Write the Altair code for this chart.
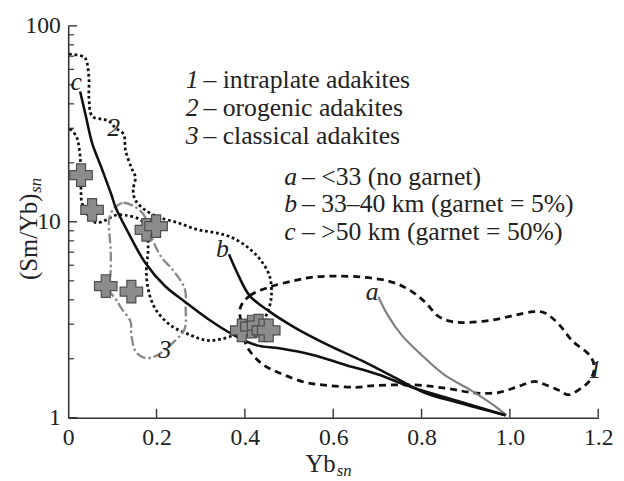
import altair as alt
import pandas as pd

# ---------------- data ----------------
# c : >50 km (garnet = 50%)
c_x = [0.027, 0.040, 0.054, 0.076, 0.098, 0.107, 0.136, 0.174, 0.219, 0.264, 0.315, 0.375, 0.427, 0.478, 0.554, 0.628, 0.702, 0.778, 0.880, 0.990]
c_y = [46.2, 34.6, 25.3, 18.7, 13.7, 11.9, 8.8, 6.2, 4.7, 3.91, 3.21, 2.64, 2.34, 2.26, 2.09, 1.86, 1.66, 1.43, 1.22, 1.03]
# b : 33-40 km (garnet = 5%)
b_x = [0.364, 0.382, 0.411, 0.456, 0.516, 0.590, 0.666, 0.740, 0.807, 0.880, 0.990]
b_y = [6.82, 5.53, 4.19, 3.48, 2.86, 2.34, 1.95, 1.60, 1.34, 1.20, 1.03]
# a : <33 (no garnet)
a_x = [0.702, 0.724, 0.755, 0.800, 0.851, 0.912, 0.963, 0.992]
a_y = [4.14, 3.32, 2.64, 2.09, 1.66, 1.38, 1.16, 1.03]

# 1 : intraplate adakites (closed, dashed)
f1_x = [0.389, 0.411, 0.456, 0.509, 0.554, 0.606, 0.666, 0.724, 0.769, 0.807, 0.836, 0.867, 0.903, 0.956, 1.008,
        1.053, 1.082, 1.113, 1.142, 1.180, 1.191, 1.182, 1.164, 1.134, 1.111, 1.082, 1.053, 1.014, 0.970, 0.918,
        0.858, 0.784, 0.695, 0.650, 0.590, 0.539, 0.487, 0.442, 0.411, 0.398, 0.393]
f1_y = [3.60, 4.19, 4.65, 4.99, 5.22, 5.28, 5.22, 4.99, 4.54, 3.91, 3.32, 3.10, 3.06, 3.14, 3.32,
        3.48, 3.40, 2.96, 2.46, 2.09, 1.80, 1.56, 1.43, 1.31, 1.38, 1.47, 1.53, 1.43, 1.34, 1.34,
        1.41, 1.47, 1.46, 1.43, 1.46, 1.51, 1.66, 1.86, 2.19, 2.54, 2.96]
# 2 : orogenic adakites (dotted, open at the axis)
f2_x = [0.002, 0.036, 0.042, 0.047, 0.047, 0.054, 0.076, 0.092, 0.107, 0.125, 0.130, 0.143, 0.152, 0.147, 0.152,
        0.174, 0.203, 0.248, 0.293, 0.331, 0.366, 0.404, 0.434, 0.456, 0.460, 0.454, 0.434, 0.404, 0.382, 0.353,
        0.315, 0.277, 0.232, 0.197, 0.181, 0.177, 0.181, 0.177, 0.165, 0.130, 0.107, 0.085, 0.063, 0.047, 0.031,
        0.029, 0.029, 0.025, 0.018, 0.002]
f2_y = [71.8, 69.4, 65.5, 53.7, 42.6, 34.6, 33.4, 32.7, 30.1, 28.1, 23.0, 18.9, 16.9, 14.5, 12.9,
        11.5, 10.6, 9.89, 9.12, 8.81, 8.40, 7.48, 6.44, 5.28, 4.19, 3.60, 2.96, 2.73, 2.67, 2.54,
        2.48, 2.64, 2.96, 3.60, 4.54, 5.73, 7.22, 9.33, 10.2, 10.8, 10.8, 10.2, 9.89, 10.6, 12.5,
        14.8, 17.9, 23.6, 27.4, 30.1]
# 3 : classical adakites (closed, dash-dot grey)
f3_x = [0.107, 0.125, 0.152, 0.174, 0.188, 0.210, 0.241, 0.264, 0.266, 0.264, 0.241, 0.203, 0.174, 0.152, 0.143,
        0.141, 0.121, 0.107, 0.092, 0.096, 0.096, 0.092, 0.098]
f3_y = [11.9, 12.5, 11.9, 10.6, 8.40, 6.66, 5.53, 4.54, 3.60, 2.86, 2.46, 2.09, 2.02, 2.19, 2.64,
        3.10, 3.60, 4.05, 4.54, 5.53, 7.22, 9.89, 11.2]

# samples (crosses)
pt_x = [0.029, 0.054, 0.177, 0.199, 0.085, 0.143, 0.393, 0.416, 0.431, 0.442, 0.454]
pt_y = [17.3, 11.5, 9.1, 9.5, 4.7, 4.4, 2.79, 2.92, 2.95, 2.79, 2.79]

# curve labels
lab_txt = ["c", "2", "3", "b", "a", "1"]
lab_x = [0.018, 0.103, 0.219, 0.349, 0.688, 1.193]
lab_y = [51.9, 30.1, 2.21, 7.22, 4.39, 1.76]

# legend
leg_key = ["1", "2", "3", "a", "b", "c"]
leg_txt = ["– intraplate adakites", "– orogenic adakites", "– classical adakites",
           "– <33 (no garnet)", "– 33–40 km (garnet = 5%)", "– >50 km (garnet = 50%)"]
leg_x = [0.266, 0.266, 0.266, 0.489, 0.489, 0.489]
leg_y = [47.9, 34.6, 25.0, 15.5, 11.2, 8.11]

x_ticks = [0.2, 0.4, 0.6, 0.8, 1.0, 1.2]
x_labels = [0, 0.2, 0.4, 0.6, 0.8, 1.0, 1.2]
y_major = [1, 10, 100]
y_minor = [2, 3, 4, 5, 6, 7, 8, 9, 20, 30, 40, 50, 60, 70, 80, 90]

# ---------------- chart ----------------
FONT = "Liberation Serif"
FS = 24      # tick labels
FT = 26      # legend / curve labels
FA = 25      # axis titles
W, H = 537, 397

xscale = alt.Scale(domain=[0, 1.2], nice=False, zero=False)
yscale = alt.Scale(type="log", domain=[1, 100], nice=False)
xaxis = alt.Axis(values=x_labels, ticks=False, grid=False, title=None,
                 labelExpr="datum.value == 0 ? '0' : format(datum.value, '.1f')",
                 labelFont=FONT, labelFontSize=FS, labelColor="#222", labelPadding=8,
                 labelFlush=False, labelOverlap=False, labelBound=False,
                 domainColor="#333", domainWidth=1.6)
yaxis = alt.Axis(values=y_major, format="d", ticks=False, grid=False, title=None,
                 labelFont=FONT, labelFontSize=FS, labelColor="#222", labelPadding=8,
                 labelOverlap=False, labelBound=False,
                 domainColor="#333", domainWidth=1.6)


def X(f="x"):
    return alt.X(f, type="quantitative", scale=xscale, axis=xaxis)


def Y(f="y"):
    return alt.Y(f, type="quantitative", scale=yscale, axis=yaxis)


def df_xy(xs, ys):
    return pd.DataFrame({"x": xs, "y": ys, "o": list(range(len(xs)))})


def curve(xs, ys, **mk):
    return alt.Chart(df_xy(xs, ys)).mark_line(**mk).encode(x=X(), y=Y(), order="o:Q")


layers = []
layers.append(curve(f1_x, f1_y, color="#111", strokeWidth=2.8, strokeDash=[7, 5], interpolate="cardinal-closed"))
layers.append(curve(f2_x, f2_y, color="#111", strokeWidth=2.8, strokeDash=[2.8, 2.8], interpolate="catmull-rom"))
layers.append(curve(f3_x, f3_y, color="#8a8a8a", strokeWidth=2.4, strokeDash=[10, 3, 2.5, 3], interpolate="cardinal-closed"))
layers.append(curve(a_x, a_y, color="#808080", strokeWidth=2.2, interpolate="catmull-rom"))
layers.append(curve(b_x, b_y, color="#111", strokeWidth=2.6, interpolate="catmull-rom"))
layers.append(curve(c_x, c_y, color="#111", strokeWidth=2.6, interpolate="catmull-rom"))

# crosses
layers.append(alt.Chart(pd.DataFrame({"x": pt_x, "y": pt_y})).mark_point(
    shape="cross", filled=True, size=520, fill="#8c8c8c", stroke="#4d4d4d",
    strokeWidth=1.2, opacity=1, fillOpacity=1).encode(x=X(), y=Y()))

# inward ticks
layers.append(alt.Chart(pd.DataFrame({"y": y_major})).mark_rule(color="#333", strokeWidth=1.4).encode(
    y=Y(), x=alt.value(0), x2=alt.value(9)))
layers.append(alt.Chart(pd.DataFrame({"y": y_minor})).mark_rule(color="#333", strokeWidth=1.2).encode(
    y=Y(), x=alt.value(0), x2=alt.value(6)))
layers.append(alt.Chart(pd.DataFrame({"x": x_ticks})).mark_rule(color="#333", strokeWidth=1.4).encode(
    x=X(), y=alt.value(H), y2=alt.value(H - 9)))

# curve labels
layers.append(alt.Chart(pd.DataFrame({"x": lab_x, "y": lab_y, "t": lab_txt})).mark_text(
    font=FONT, fontSize=FT, fontStyle="italic", color="#222", align="center", baseline="middle").encode(
    x=X(), y=Y(), text="t:N"))

# legend texts
leg_df = pd.DataFrame({"x": leg_x, "y": leg_y, "k": leg_key, "t": leg_txt})
layers.append(alt.Chart(leg_df).mark_text(
    font=FONT, fontSize=FT, fontStyle="italic", color="#222", align="left", baseline="alphabetic").encode(
    x=X(), y=Y(), text="k:N"))
layers.append(alt.Chart(leg_df).mark_text(
    font=FONT, fontSize=FT, color="#222", align="left", baseline="alphabetic", dx=18).encode(
    x=X(), y=Y(), text="t:N"))

# axis titles with subscripts
ttl = pd.DataFrame({"a": [0]})
layers.append(alt.Chart(ttl).mark_text(font=FONT, fontSize=FA, color="#222", angle=270,
                                       align="right", baseline="alphabetic").encode(
    x=alt.value(-32), y=alt.value(170), text=alt.value("(Sm/Yb)")))
layers.append(alt.Chart(ttl).mark_text(font=FONT, fontSize=17, fontStyle="italic", color="#222", angle=270,
                                       align="left", baseline="alphabetic").encode(
    x=alt.value(-28), y=alt.value(169), text=alt.value("sn")))
layers.append(alt.Chart(ttl).mark_text(font=FONT, fontSize=FA, color="#222",
                                       align="right", baseline="alphabetic").encode(
    x=alt.value(271), y=alt.value(452), text=alt.value("Yb")))
layers.append(alt.Chart(ttl).mark_text(font=FONT, fontSize=17, fontStyle="italic", color="#222",
                                       align="left", baseline="alphabetic").encode(
    x=alt.value(272), y=alt.value(456), text=alt.value("sn")))

chart = alt.layer(*layers).properties(
    width=W, height=H,
    autosize=alt.AutoSizeParams(type="none"),
    padding={"left": 61, "top": 15, "right": 18, "bottom": 60},
    background="white",
).configure_view(stroke=None)

chart.save("out.html", embed_options={"renderer": "svg", "actions": False})
